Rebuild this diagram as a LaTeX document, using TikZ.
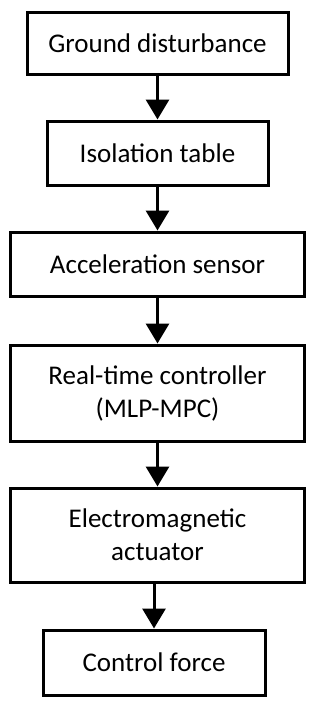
\documentclass[tikz,border=0pt]{standalone}
\usepackage{fontspec}
\setmainfont{Carlito}
\usetikzlibrary{positioning,arrows.meta}

\begin{document}
\begin{tikzpicture}[
      x=1pt, y=1pt,
      node distance=44pt,
      blk/.style={rectangle, draw=black, line width=3pt, align=center, inner sep=0pt, font=\fontsize{27}{33}\selectfont, minimum width=294pt, minimum height=64pt},
      arrow/.style={-{Triangle[length=20pt,width=23pt]}, line width=3pt}
    ]
      \useasboundingbox (0,0) rectangle (314,-705);
      \node[blk, minimum width=261pt, minimum height=62pt] (ground) at (157.5,-43) {Ground disturbance};
      \node[blk, minimum width=221pt, below=of ground] (table) {Isolation table};
      \node[blk, below=of table] (sensor) {Acceleration sensor};
      \node[blk, minimum height=96pt, below=46pt of sensor] (ctrl) {Real-time controller\\(MLP-MPC)};
      \node[blk, minimum height=94pt, below=of ctrl] (act) {Electromagnetic\\actuator};
      \node[blk, minimum width=222pt, minimum height=65pt, below=45pt of act, xshift=-3.5pt] (force) {Control force};

      \draw[arrow] (ground) -- (table);
      \draw[arrow] (table) -- (sensor);
      \draw[arrow] (sensor) -- (ctrl);
      \draw[arrow] (ctrl) -- (act);
      \draw[arrow] (act.south -| force.north) -- (force);
    \end{tikzpicture}
\end{document}
